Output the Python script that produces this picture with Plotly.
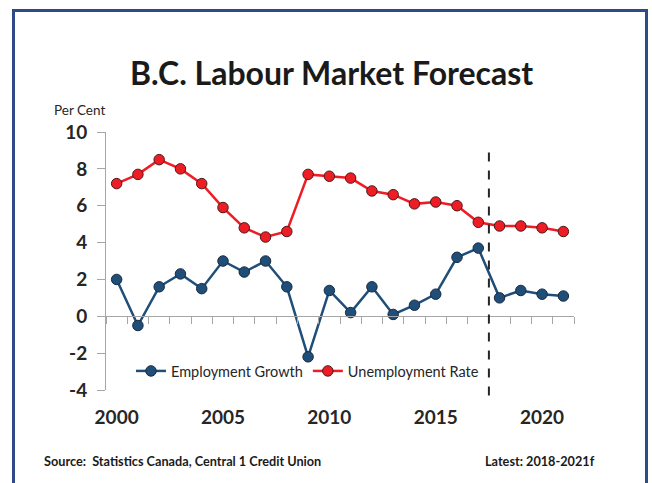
import plotly.graph_objects as go

years = list(range(2000, 2022))
employment_growth = [2.0, -0.5, 1.6, 2.3, 1.5, 3.0, 2.4, 3.0, 1.6, -2.2, 1.4, 0.2,
                     1.6, 0.1, 0.6, 1.2, 3.2, 3.7, 1.0, 1.4, 1.2, 1.1]
unemployment_rate = [7.2, 7.7, 8.5, 8.0, 7.2, 5.9, 4.8, 4.3, 4.6, 7.7, 7.6, 7.5,
                     6.8, 6.6, 6.1, 6.2, 6.0, 5.1, 4.9, 4.9, 4.8, 4.6]
x_tick_vals = [2000, 2005, 2010, 2015, 2020]
x_tick_labels = ["2000", "2005", "2010", "2015", "2020"]
y_tick_vals = [-4, -2, 0, 2, 4, 6, 8, 10]
y_tick_labels = ["-4", "-2", "0", "2", "4", "6", "8", "10"]
forecast_start = 2017.5

FONT = "Lato"
W, H = 652, 483
ML, MR, MT, MB = 106, 78, 132, 93
ymin, ymax = -4, 10
xmin, xmax = 1999.5, 2021.5

def px_x(p):
    return (p - ML) / (W - ML - MR)

def px_y(p):
    return (H - MB - p) / (H - MT - MB)

def val_y(v):
    return (v - ymin) / (ymax - ymin)

fig = go.Figure()
fig.add_trace(go.Scatter(
    x=years, y=employment_growth, name="Employment Growth", mode="lines+markers",
    line=dict(color="#1F4E79", width=2.5),
    marker=dict(size=10.5, color="#1F4E79", line=dict(color="#1a2a40", width=1)),
))
fig.add_trace(go.Scatter(
    x=years, y=unemployment_rate, name="Unemployment Rate", mode="lines+markers",
    line=dict(color="#EE1C25", width=2.5),
    marker=dict(size=10.5, color="#EE1C25", line=dict(color="#4a1a1a", width=1)),
))
fig.add_trace(go.Scatter(x=[], y=[], xaxis="x2", yaxis="y", showlegend=False, hoverinfo="skip"))

fig.update_layout(
    width=W, height=H,
    margin=dict(l=ML, r=MR, t=MT, b=MB),
    paper_bgcolor="white", plot_bgcolor="white",
    font=dict(family=FONT, color="#262626"),
    showlegend=True,
    legend=dict(orientation="h", x=px_x(131), y=px_y(371), xanchor="left", yanchor="middle",
                font=dict(family=FONT, size=14.5, color="#262626"),
                bgcolor="rgba(0,0,0,0)", itemwidth=30, tracegroupgap=0),
    xaxis=dict(range=[xmin, xmax], tickmode="array", tickvals=x_tick_vals, ticktext=x_tick_labels,
               showline=False, showgrid=False, zeroline=False, ticks="",
               ticklabelstandoff=14,
               tickfont=dict(family=FONT, size=19, color="#262626", weight="bold")),
    xaxis2=dict(range=[xmin, xmax], overlaying="x", anchor="free", position=val_y(0),
                showline=True, linecolor="#A6A6A6", linewidth=1, showgrid=False, zeroline=False,
                tickmode="linear", tick0=xmin, dtick=1, ticks="outside", ticklen=7,
                tickcolor="#A6A6A6", showticklabels=False),
    yaxis=dict(range=[ymin, ymax], tickmode="array", tickvals=y_tick_vals, ticktext=y_tick_labels,
               showline=True, linecolor="#A6A6A6", linewidth=1, showgrid=False, zeroline=False,
               ticks="outside", ticklen=8, tickcolor="#A6A6A6", ticklabelstandoff=6,
               tickfont=dict(family=FONT, size=19, color="#262626", weight="bold")),
)

fig.add_shape(type="line", xref="x", yref="paper",
              x0=forecast_start, x1=forecast_start, y0=val_y(-4.3), y1=val_y(9.0),
              line=dict(color="#262626", width=2, dash="dash"))

fig.add_shape(type="rect", xref="paper", yref="paper",
              x0=px_x(13.5), x1=px_x(646.5), y0=px_y(495), y1=px_y(10.5),
              line=dict(color="#2E4A87", width=3), fillcolor="rgba(0,0,0,0)", layer="above")

fig.add_annotation(text="<b>B.C. Labour Market Forecast</b>", xref="paper", yref="paper",
                   x=px_x(331), y=px_y(72), showarrow=False, xanchor="center", yanchor="middle",
                   font=dict(family=FONT, size=32, color="#1a1a1a"))
fig.add_annotation(text="Per Cent", xref="paper", yref="paper",
                   x=px_x(79), y=px_y(110), showarrow=False, xanchor="center", yanchor="middle",
                   font=dict(family=FONT, size=13.5, color="#262626"))
fig.add_annotation(text="<b>Source:  Statistics Canada, Central 1 Credit Union</b>", xref="paper", yref="paper",
                   x=px_x(42), y=px_y(461), showarrow=False, xanchor="left", yanchor="middle",
                   font=dict(family=FONT, size=12.7, color="#1a1a1a"))
fig.add_annotation(text="<b>Latest: 2018-2021f</b>", xref="paper", yref="paper",
                   x=px_x(597), y=px_y(461), showarrow=False, xanchor="right", yanchor="middle",
                   font=dict(family=FONT, size=12.7, color="#1a1a1a"))

fig.write_html("out.html")
